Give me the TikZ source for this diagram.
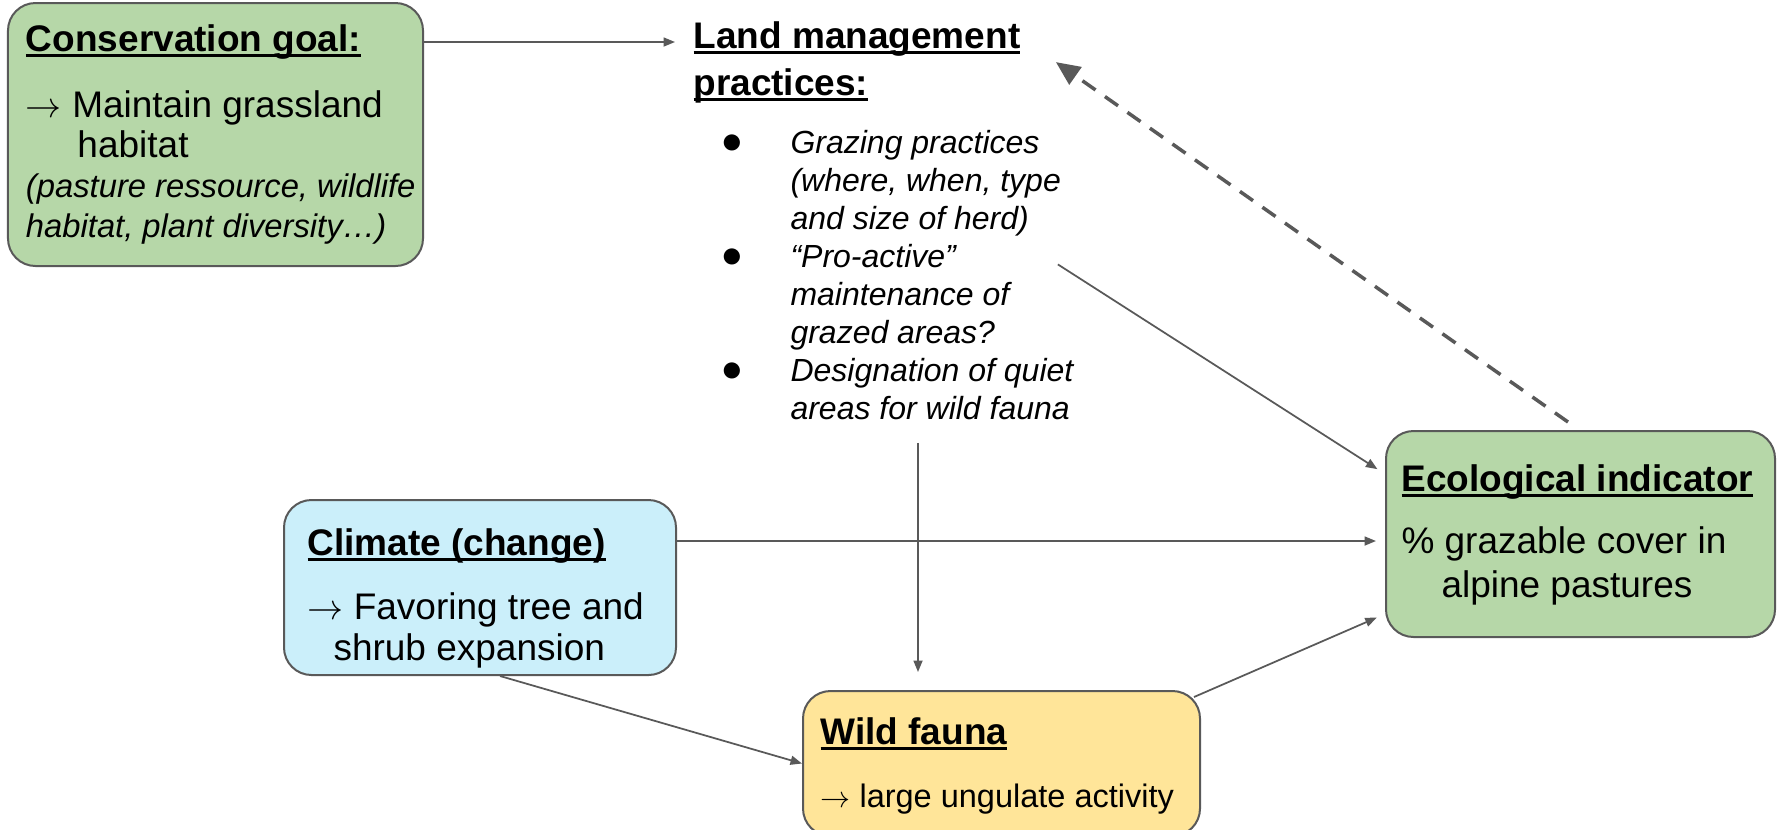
\documentclass[tikz,border=0pt]{standalone}
\usepackage{fontspec}
\setmainfont{Liberation Sans}
\usepackage{tikz}
\usetikzlibrary{arrows.meta, positioning}
\usepackage{xcolor}

\definecolor{goalgreen}{HTML}{B6D7A8}
\definecolor{climatecyan}{HTML}{CBEFFA}
\definecolor{faunayellow}{HTML}{FFE599}
\definecolor{edgegray}{HTML}{595959}

% underline set close under the baseline
\newcommand{\headline}[1]{\setbox0=\hbox{#1}\rlap{\rule[-0.15em]{\wd0}{0.08em}}\box0}
% thin arrow opening a line
\newcommand{\pointer}{$\rightarrow$}

\begin{document}
\begin{tikzpicture}[
    x=0.4pt, y=-0.4pt,
    card/.style={draw=edgegray, line width=0.8pt, rounded corners=11pt, inner sep=0pt},
    headtext/.style={font=\fontsize{14.8}{18.8}\selectfont\bfseries, inner sep=0pt, anchor=base west},
    bodytext/.style={inner sep=0pt, anchor=base west},
    link/.style={draw=edgegray, line width=0.7pt, -{Triangle[length=4.6pt, width=3.6pt]}},
    feedback/.style={draw=edgegray, line width=1.4pt, dash pattern=on 6.4pt off 4.6pt, -{Triangle[length=9.6pt, width=8.4pt]}}
]
\useasboundingbox (0,0) rectangle (1778,829);

% Boxes
\node[card, fill=goalgreen, minimum width=166pt, minimum height=105.2pt] (goal_box) at (215.5,134.5) {};
\node[card, fill=goalgreen, minimum width=155.6pt, minimum height=82.4pt] (indicator_box) at (1580.5,534) {};
\node[card, fill=climatecyan, minimum width=156.8pt, minimum height=70pt] (climate_box) at (480,587.5) {};
\node[card, fill=faunayellow, minimum width=158.8pt, minimum height=58pt] (fauna_box) at (1001.5,763.5) {};

% Conservation goal
\node[headtext] (goal_title) at ([xshift=7.4pt, yshift=-19.8pt]goal_box.north west) {\headline{Conservation goal:}};
\node[bodytext, font=\fontsize{14.8}{16}\selectfont] (goal_text) at ([xshift=7.4pt, yshift=-46.3pt]goal_box.north west) {%
    \begin{tabular}[t]{@{}l@{}}
    \pointer\ Maintain grassland\\
    \hspace*{20.6pt}habitat\\
    \fontsize{13.1}{16}\selectfont\itshape (pasture ressource, wildlife\\
    \fontsize{13.1}{16}\selectfont\itshape habitat, plant diversity…)
    \end{tabular}};

% Land management practices
\node[headtext] (land_title) at (693,48) {%
    \begin{tabular}[t]{@{}l@{}}
    \headline{Land management}\\
    \headline{practices:}
    \end{tabular}};
\node[bodytext, font=\fontsize{12.8}{15.2}\selectfont\itshape] (practice_list) at (720,153) {%
    \begin{tabular}[t]{@{}p{28pt}@{}l@{}}
    \upshape\fontsize{15}{15.2}\selectfont ● & Grazing practices\\
               & (where, when, type\\
               & and size of herd)\\
    \upshape\fontsize{15}{15.2}\selectfont ● & “Pro-active”\\
               & maintenance of\\
               & grazed areas?\\
    \upshape\fontsize{15}{15.2}\selectfont ● & Designation of quiet\\
               & areas for wild fauna
    \end{tabular}};

% Ecological indicator
\node[headtext] (indicator_title) at ([xshift=6.4pt, yshift=-24.4pt]indicator_box.north west) {\headline{Ecological indicator}};
\node[bodytext, font=\fontsize{14.8}{17.6}\selectfont] (indicator_text) at ([xshift=6.4pt, yshift=-49.2pt]indicator_box.north west) {%
    \begin{tabular}[t]{@{}l@{}}
    \% grazable cover in\\
    \hspace*{16pt}alpine pastures
    \end{tabular}};

% Climate
\node[headtext] (climate_title) at ([xshift=9.6pt, yshift=-22.4pt]climate_box.north west) {\headline{Climate (change)}};
\node[bodytext, font=\fontsize{14.8}{16.4}\selectfont] (climate_text) at ([xshift=9.6pt, yshift=-48pt]climate_box.north west) {%
    \begin{tabular}[t]{@{}l@{}}
    \pointer\ Favoring tree and\\
    \hspace*{10.4pt}shrub expansion
    \end{tabular}};

% Wild fauna
\node[headtext] (fauna_title) at ([xshift=7.2pt, yshift=-21.6pt]fauna_box.north west) {\headline{Wild fauna}};
\node[bodytext, font=\fontsize{13}{16}\selectfont] (fauna_text) at ([xshift=7.2pt, yshift=-46.8pt]fauna_box.north west) {\pointer\ large ungulate activity};

% Connectors
\coordinate (goal_out) at ([yshift=-16pt]goal_box.north east);
\coordinate (land_in) at ([xshift=-7.2pt]land_title.west);
\coordinate (land_back) at ([xshift=14pt]land_title.east);
\coordinate (climate_out) at ([yshift=-16.8pt]climate_box.north east);
\coordinate (fauna_top) at ([xshift=-33.4pt]fauna_box.north);

\draw[link] (goal_out) -- (goal_out -| land_in);
\draw[feedback] ([xshift=-5pt, yshift=3.2pt]indicator_box.north) -- (land_back);
\draw[link, shorten >=3.6pt] ([xshift=-6.4pt, yshift=5.6pt]practice_list.east) -- ([yshift=24pt]indicator_box.west);
\draw[link, shorten <=4.8pt, shorten >=7.2pt] (practice_list.south -| fauna_top) -- (fauna_top);
\draw[link, shorten >=3.6pt] (climate_out) -- (climate_out -| indicator_box.west);
\draw[link] ([xshift=8pt]climate_box.south) -- (fauna_box.west);
\draw[link, shorten >=3.6pt] ([shift={(-2.8pt,-2.8pt)}]fauna_box.north east) -- ([yshift=9.6pt]indicator_box.south west);

\end{tikzpicture}
\end{document}
